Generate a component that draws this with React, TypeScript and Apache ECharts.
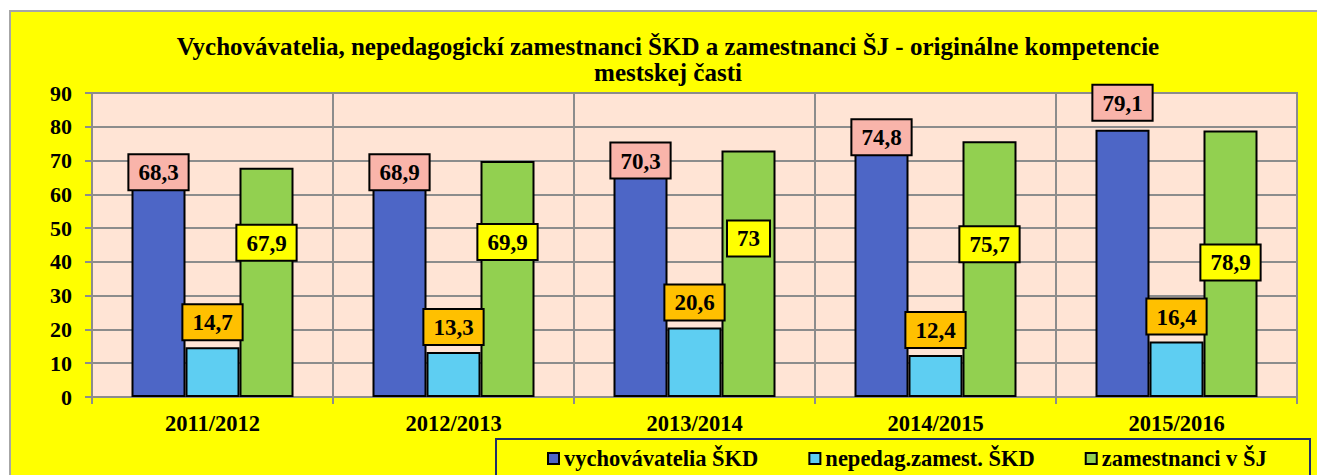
import React, { useEffect, useRef } from "react";
import * as echarts from "echarts";

const categories = ["2011/2012", "2012/2013", "2013/2014", "2014/2015", "2015/2016"];
const vychovavatelia = [68.3, 68.9, 70.3, 74.8, 79.1];
const nepedag = [14.7, 13.3, 20.6, 12.4, 16.4];
const zamestnanciSJ = [67.9, 69.9, 73, 75.7, 78.9];
const seriesNames = ["vychovávatelia ŠKD", "nepedag.zamest. ŠKD", "zamestnanci v ŠJ"];
const yTicks = { min: 0, max: 90, interval: 10 };

// label placement shifts (px), styling only
const blueLabelShift = [-11, -9, -16, -24, -44];
const greenLabelShift = [58, 64, 71, 86, 115];

const FONT = "Liberation Serif";

const fmt = (p: any) => String(p.value).replace(".", ",");

const labelBase = {
  show: true,
  fontFamily: FONT,
  fontWeight: "bold" as const,
  fontSize: 23,
  color: "#000",
  borderColor: "#000",
  borderWidth: 2,
  padding: [6, 9, 5, 9],
  formatter: fmt,
};

export default function App() {
  const ref = useRef<HTMLDivElement>(null);
  useEffect(() => {
    if (!ref.current) return;
    const chart = echarts.init(ref.current, undefined, { renderer: "svg" });
    const barBorder = { borderColor: "#000", borderWidth: 2 };
    chart.setOption({
      animation: false,
      textStyle: { fontFamily: FONT },
      title: {
        text: "Vychovávatelia, nepedagogickí zamestnanci ŠKD a zamestnanci ŠJ - originálne kompetencie\nmestskej časti",
        left: 668,
        top: 33,
        textAlign: "center",
        padding: 0,
        textStyle: {
          fontFamily: FONT,
          fontWeight: "bold",
          fontSize: 25,
          lineHeight: 26,
          color: "#000",
        },
      },
      legend: {
        left: 547,
        top: 447,
        itemGap: 50,
        itemWidth: 11,
        itemHeight: 11,
        icon: "rect",
        padding: 0,
        textStyle: { fontFamily: FONT, fontWeight: "bold", fontSize: 22.5, color: "#000", padding: [2, 0, 0, 0] },
        data: seriesNames,
      },
      graphic: [
        {
          type: "rect",
          shape: { x: 496, y: 439, width: 814, height: 44 },
          style: { fill: "none", stroke: "#1F2F6A", lineWidth: 2 },
        },
      ],
      grid: {
        left: 92,
        right: 20,
        top: 93,
        bottom: 78,
        show: true,
        backgroundColor: "#FFE4D5",
        borderColor: "#8C8C8C",
        borderWidth: 2,
      },
      xAxis: {
        type: "category",
        data: categories,
        boundaryGap: true,
        axisLine: { show: true, lineStyle: { color: "#8C8C8C", width: 2 } },
        axisTick: { show: true, length: 7, lineStyle: { color: "#8C8C8C", width: 2 } },
        splitLine: { show: true, lineStyle: { color: "#8C8C8C", width: 2 } },
        axisLabel: { fontFamily: FONT, fontWeight: "bold", fontSize: 22.5, color: "#000", margin: 15 },
      },
      yAxis: {
        type: "value",
        min: yTicks.min,
        max: yTicks.max,
        interval: yTicks.interval,
        axisLine: { show: true, lineStyle: { color: "#8C8C8C", width: 2 } },
        axisTick: { show: true, length: 7, lineStyle: { color: "#8C8C8C", width: 2 } },
        splitLine: { show: true, lineStyle: { color: "#8C8C8C", width: 2 } },
        axisLabel: { fontFamily: FONT, fontWeight: "bold", fontSize: 22, color: "#000", margin: 20 },
      },
      series: [
        {
          name: seriesNames[0],
          type: "bar",
          barWidth: 54,
          barGap: "0%",
          itemStyle: { color: "#4D66C6", ...barBorder },
          data: vychovavatelia.map((v, i) => ({
            value: v,
            label: { offset: [0, blueLabelShift[i]] },
          })),
          label: { ...labelBase, position: "insideTop", distance: 0, backgroundColor: "#F9B4AA" },
          z: 2,
        },
        {
          name: seriesNames[1],
          type: "bar",
          barWidth: 54,
          barGap: "0%",
          itemStyle: { color: "#5ECEF2", ...barBorder },
          data: nepedag,
          label: { ...labelBase, position: "top", distance: 8, backgroundColor: "#FFC000" },
          z: 3,
        },
        {
          name: seriesNames[2],
          type: "bar",
          barWidth: 54,
          barGap: "0%",
          itemStyle: { color: "#92D050", ...barBorder },
          data: zamestnanciSJ.map((v, i) => ({
            value: v,
            label: { offset: [0, greenLabelShift[i]] },
          })),
          label: { ...labelBase, position: "insideTop", distance: 0, backgroundColor: "#FFFF00" },
          z: 2,
        },
      ],
    });
    return () => chart.dispose();
  }, []);

  return (
    <div style={{ position: "absolute", left: 0, top: 0, width: 1317, height: 475, background: "#fff", overflow: "hidden" }}>
      <div
        style={{
          position: "absolute",
          left: 9,
          top: 10,
          width: 1330,
          height: 490,
          background: "#FFFF00",
          borderLeft: "2px solid #A6A6A6",
          borderTop: "2px solid #A6A6A6",
        }}
      />
      <div ref={ref} style={{ position: "absolute", left: 0, top: 0, width: 1317, height: 475 }} />
    </div>
  );
}
